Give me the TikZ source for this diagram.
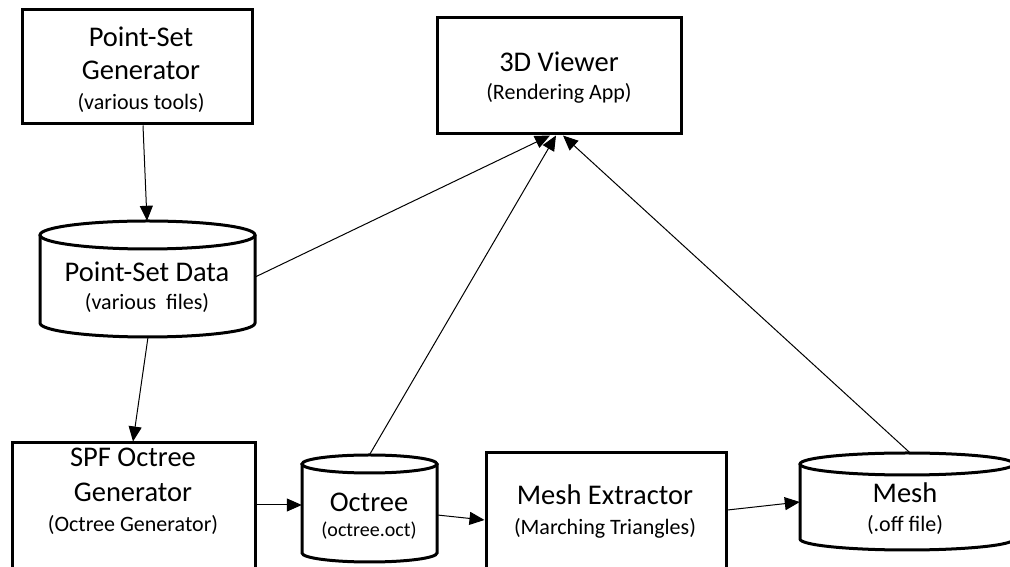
\documentclass[tikz,border=0pt]{standalone}
\usepackage{fontspec}
\setmainfont{Carlito}
\usetikzlibrary{arrows.meta}

% cylinder outline: centre x, top y, bottom y, x radius, y radius
\newcommand\cylshape[5]{%
  \draw[cyl] (#1,#2-#5) ellipse[x radius=#4, y radius=#5];
  \draw[cyl] (#1-#4,#2-#5) -- (#1-#4,#3+#5)
    arc[start angle=180, end angle=360, x radius=#4, y radius=#5]
    -- (#1+#4,#2-#5);
}

\begin{document}
\begin{tikzpicture}[x=1pt, y=1pt,
  box/.style={draw, rectangle, line width=3pt, inner sep=0pt},
  store/.style={rectangle, draw=none, inner sep=0pt},
  cyl/.style={line width=3pt},
  flow/.style={line width=1pt, -{Triangle[length=15pt, width=13pt]}},
  title/.style={anchor=base, inner sep=0pt, font=\fontsize{28.5}{33}\selectfont},
  sub/.style={anchor=base, inner sep=0pt, font=\fontsize{22}{26}\selectfont},
  subsmall/.style={anchor=base, inner sep=0pt, font=\fontsize{20}{24}\selectfont}]
\useasboundingbox (0,0) rectangle (1010,567);
\clip (0,0) rectangle (1010,567);

% process boxes
\node[box, minimum width=230pt, minimum height=114pt] (psg) at (137,500) {};
\node[box, minimum width=244pt, minimum height=116pt] (viewer) at (559,491) {};
\node[box, minimum width=243pt, minimum height=140pt] (spf) at (133.5,54) {};
\node[box, minimum width=240pt, minimum height=130pt] (meshex) at (606,49) {};

% data stores (outlines drawn below)
\node[store, minimum width=215pt, minimum height=116pt] (psd) at (147.5,288) {};
\node[store, minimum width=135pt, minimum height=107pt] (octree) at (369.5,58.5) {};
\node[store, minimum width=214pt, minimum height=97pt] (mesh) at (907,65.5) {};

\cylshape{147.5}{346}{230}{107.5}{14}
\cylshape{369.5}{112}{5}{67.5}{9}
\cylshape{907}{114}{17}{107}{11}

% labels
\node[title] (psgA) at (141,520) {Point-Set};
\node[title] (psgB) at (141,487) {Generator};
\node[sub]   (psgC) at (141,457) {(various tools)};

\node[title] (viewerA) at (559,495) {3D Viewer};
\node[sub]   (viewerB) at (559,467) {(Rendering App)};

\node[title] (psdA) at (147,285) {Point-Set Data};
\node[sub]   (psdB) at (147,257) {(various\ \ files)};

\node[title] (spfA) at (133,100) {SPF Octree};
\node[title] (spfB) at (133,65) {Generator};
\node[sub]   (spfC) at (133,35) {(Octree Generator)};

\node[title]    (octreeA) at (369,55) {Octree};
\node[subsmall] (octreeB) at (369,30) {(octree.oct)};

\node[title] (meshexA) at (605,62) {Mesh Extractor};
\node[sub]   (meshexB) at (605,32) {(Marching Triangles)};

\node[title] (meshA) at (905,64) {Mesh};
\node[sub]   (meshB) at (905,35) {(.off file)};

% data flow
\draw[flow] ([xshift=6pt]psg.south) -- ([xshift=-0.5pt]psd.north);
\draw[flow] ([xshift=0.5pt]psd.south) -- ([xshift=-0.5pt]spf.north);
\draw[flow] ([yshift=2pt]psd.east) -- ([xshift=-9pt]viewer.south);
\draw[flow] (octree.north) -- ([xshift=-3pt]viewer.south);
\draw[flow] ([xshift=3pt]mesh.north) -- ([xshift=4pt]viewer.south);
\draw[flow] ([yshift=8pt]spf.east) -- ([yshift=3.5pt]octree.west);
\draw[flow] ([yshift=-6.5pt]octree.east) -- ([yshift=-2pt]meshex.west);
\draw[flow] ([yshift=8pt]meshex.east) -- ([yshift=-0.5pt]mesh.west);
\end{tikzpicture}
\end{document}
